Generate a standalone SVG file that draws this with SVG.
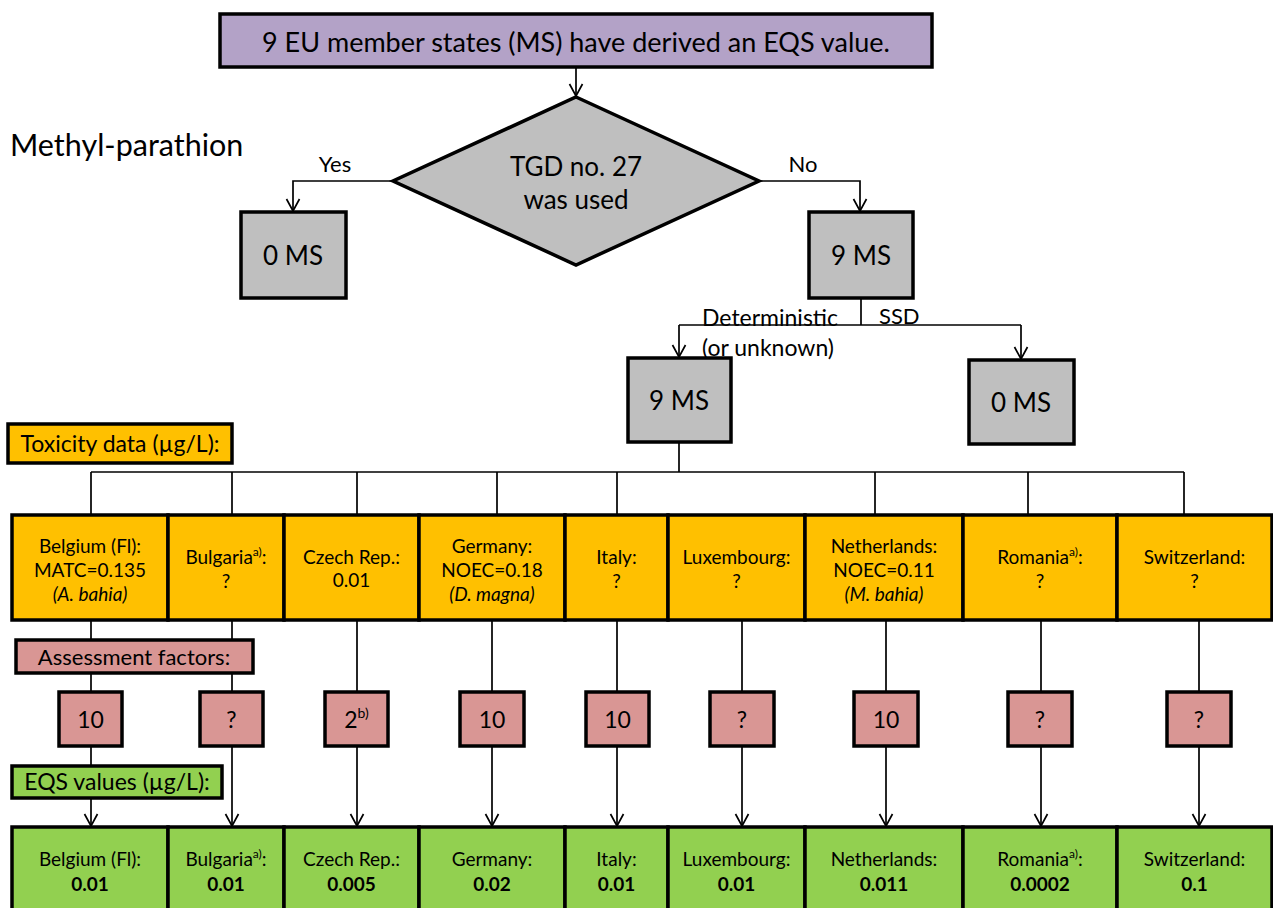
<svg xmlns="http://www.w3.org/2000/svg" width="1273" height="908" viewBox="0 0 1273 908">
  <style>
    text { font-family: Lato, "Liberation Sans", sans-serif; fill: #000; dominant-baseline: central; text-anchor: middle; }
    .box { stroke: #000; stroke-width: 3.5; }
    .purple { fill: #b3a2c7; }
    .gray { fill: #bfbfbf; }
    .orange { fill: #ffc000; }
    .pink { fill: #d99694; }
    .green { fill: #92d050; }
    .wire { fill: none; stroke: #000; stroke-width: 1.7; }
    .t26 { font-size: 26px; }
    .lbl { font-size: 22px; }
    .key { font-size: 23px; }
    .cell { font-size: 19px; }
    .af { font-size: 23px; }
    .b { font-weight: bold; }
    .i { font-style: italic; }
    .sup { font-size: 12px; }
  </style>
  <defs>
    <marker id="arr" viewBox="-14 -8 16 16" refX="0" refY="0" markerWidth="16" markerHeight="16" markerUnits="userSpaceOnUse" orient="auto">
      <path d="M-12,-6.5 L0,0 L-12,6.5" fill="none" stroke="#000" stroke-width="1.7"/>
    </marker>
  </defs>

  <rect width="1273" height="908" fill="#fff"/>

  <!-- connectors -->
  <g id="connectors" class="wire">
    <path d="M576,67 V96" marker-end="url(#arr)"/>
    <path d="M393,181 H293 V211" marker-end="url(#arr)"/>
    <path d="M759,181 H860 V211" marker-end="url(#arr)"/>
    <path d="M861,298 V325"/>
    <path d="M679,325 H1021"/>
    <path d="M679,325 V357" marker-end="url(#arr)"/>
    <path d="M1021,325 V359" marker-end="url(#arr)"/>
    <path d="M679,442 V472"/>
    <path d="M91,472 H1184"/>
    <path d="M91,472 V515 M232,472 V515 M357,472 V515 M497,472 V515 M617,472 V515 M875,472 V515 M1028,472 V515 M1184,472 V515"/>
    <path d="M91,620 V692 M232,620 V692 M357,620 V692 M492,620 V692 M617,620 V692 M742,620 V692 M886,620 V692 M1041,620 V692 M1199,620 V692"/>
    <path d="M91,746 V826" marker-end="url(#arr)"/>
    <path d="M232,746 V826" marker-end="url(#arr)"/>
    <path d="M357,746 V826" marker-end="url(#arr)"/>
    <path d="M492,746 V826" marker-end="url(#arr)"/>
    <path d="M617,746 V826" marker-end="url(#arr)"/>
    <path d="M742,746 V826" marker-end="url(#arr)"/>
    <path d="M886,746 V826" marker-end="url(#arr)"/>
    <path d="M1041,746 V826" marker-end="url(#arr)"/>
    <path d="M1199,746 V826" marker-end="url(#arr)"/>
  </g>

  <!-- branch labels -->
  <g id="edge-labels" class="lbl">
    <text x="335" y="163">Yes</text>
    <text x="803" y="163">No</text>
    <text x="702" y="317" style="text-anchor:start; font-size:23px">Deterministic</text>
    <text x="702" y="347" style="text-anchor:start; font-size:23px">(or unknown)</text>
    <text x="879" y="315" style="text-anchor:start">SSD</text>
  </g>

  <text id="title" x="10" y="144" style="text-anchor:start; font-size:30.5px">Methyl-parathion</text>

  <g id="start">
    <rect class="box purple" x="220" y="14" width="712" height="53"/>
    <text x="576" y="41" style="font-size:27px">9 EU member states (MS) have derived an EQS value.</text>
  </g>

  <g id="decision">
    <polygon class="box gray" points="576,97 759,181 576,265 393,181"/>
    <text class="t26" x="576" y="166">TGD no. 27</text>
    <text class="t26" x="576" y="199">was used</text>
  </g>

  <g id="yes-count">
    <rect class="box gray" x="241" y="212" width="105" height="86"/>
    <text class="t26" x="293" y="255">0 MS</text>
  </g>
  <g id="no-count">
    <rect class="box gray" x="809" y="212" width="104" height="86"/>
    <text class="t26" x="861" y="255">9 MS</text>
  </g>
  <g id="deterministic-count">
    <rect class="box gray" x="628" y="358" width="103" height="84"/>
    <text class="t26" x="679" y="400">9 MS</text>
  </g>
  <g id="ssd-count">
    <rect class="box gray" x="969" y="360" width="105" height="84"/>
    <text class="t26" x="1021" y="402">0 MS</text>
  </g>

  <g id="tox-label">
    <rect class="box orange" x="8" y="424" width="224" height="39"/>
    <text class="key" x="120" y="443">Toxicity data (µg/L):</text>
  </g>

  <!-- toxicity data per member state -->
  <g id="tox-belgium">
    <rect class="box orange" x="12" y="515" width="156" height="105"/>
    <text class="cell" x="90" y="545">Belgium (Fl):</text>
    <text class="cell" x="90" y="569">MATC=0.135</text>
    <text class="cell i" x="90" y="593">(A. bahia)</text>
  </g>
  <g id="tox-bulgaria">
    <rect class="box orange" x="168" y="515" width="116" height="105"/>
    <text class="cell" x="226" y="556">Bulgaria<tspan class="sup" dy="-5">a)</tspan><tspan dy="5">:</tspan></text>
    <text class="cell" x="226" y="580">?</text>
  </g>
  <g id="tox-czech">
    <rect class="box orange" x="284" y="515" width="135" height="105"/>
    <text class="cell" x="351.5" y="556">Czech Rep.:</text>
    <text class="cell" x="351.5" y="579">0.01</text>
  </g>
  <g id="tox-germany">
    <rect class="box orange" x="419" y="515" width="146" height="105"/>
    <text class="cell" x="492" y="545">Germany:</text>
    <text class="cell" x="492" y="569">NOEC=0.18</text>
    <text class="cell i" x="492" y="593">(D. magna)</text>
  </g>
  <g id="tox-italy">
    <rect class="box orange" x="565" y="515" width="103" height="105"/>
    <text class="cell" x="616.5" y="556">Italy:</text>
    <text class="cell" x="616.5" y="580">?</text>
  </g>
  <g id="tox-luxembourg">
    <rect class="box orange" x="668" y="515" width="137" height="105"/>
    <text class="cell" x="736.5" y="556">Luxembourg:</text>
    <text class="cell" x="736.5" y="580">?</text>
  </g>
  <g id="tox-netherlands">
    <rect class="box orange" x="805" y="515" width="158" height="105"/>
    <text class="cell" x="884" y="545">Netherlands:</text>
    <text class="cell" x="884" y="569">NOEC=0.11</text>
    <text class="cell i" x="884" y="593">(M. bahia)</text>
  </g>
  <g id="tox-romania">
    <rect class="box orange" x="963" y="515" width="154" height="105"/>
    <text class="cell" x="1040" y="556">Romania<tspan class="sup" dy="-5">a)</tspan><tspan dy="5">:</tspan></text>
    <text class="cell" x="1040" y="580">?</text>
  </g>
  <g id="tox-switzerland">
    <rect class="box orange" x="1117" y="515" width="155" height="105"/>
    <text class="cell" x="1194.5" y="556">Switzerland:</text>
    <text class="cell" x="1194.5" y="580">?</text>
  </g>

  <g id="af-label">
    <rect class="box pink" x="16" y="640" width="237" height="33"/>
    <text class="lbl" x="134" y="656">Assessment factors:</text>
  </g>

  <!-- assessment factors -->
  <g id="af-belgium"><rect class="box pink" x="59" y="692" width="63" height="54"/><text class="af" x="90.5" y="719">10</text></g>
  <g id="af-bulgaria"><rect class="box pink" x="200" y="692" width="63" height="54"/><text class="af" x="231.5" y="719">?</text></g>
  <g id="af-czech"><rect class="box pink" x="325" y="692" width="63" height="54"/><text class="af" x="356.5" y="719">2<tspan class="sup" style="font-size:14px" dy="-7">b)</tspan></text></g>
  <g id="af-germany"><rect class="box pink" x="460" y="692" width="64" height="54"/><text class="af" x="492" y="719">10</text></g>
  <g id="af-italy"><rect class="box pink" x="586" y="692" width="63" height="54"/><text class="af" x="617.5" y="719">10</text></g>
  <g id="af-luxembourg"><rect class="box pink" x="710" y="692" width="64" height="54"/><text class="af" x="742" y="719">?</text></g>
  <g id="af-netherlands"><rect class="box pink" x="854" y="692" width="64" height="54"/><text class="af" x="886" y="719">10</text></g>
  <g id="af-romania"><rect class="box pink" x="1008" y="692" width="64" height="54"/><text class="af" x="1040" y="719">?</text></g>
  <g id="af-switzerland"><rect class="box pink" x="1167" y="692" width="64" height="54"/><text class="af" x="1199" y="719">?</text></g>

  <g id="eqs-label">
    <rect class="box green" x="12" y="766" width="210" height="32"/>
    <text class="key" x="117" y="781">EQS values (µg/L):</text>
  </g>

  <!-- resulting EQS values -->
  <g id="eqs-belgium">
    <rect class="box green" x="12" y="827" width="156" height="100"/>
    <text class="cell" x="90" y="858">Belgium (Fl):</text>
    <text class="cell b" x="90" y="883">0.01</text>
  </g>
  <g id="eqs-bulgaria">
    <rect class="box green" x="168" y="827" width="116" height="100"/>
    <text class="cell" x="226" y="858">Bulgaria<tspan class="sup" dy="-5">a)</tspan><tspan dy="5">:</tspan></text>
    <text class="cell b" x="226" y="883">0.01</text>
  </g>
  <g id="eqs-czech">
    <rect class="box green" x="284" y="827" width="135" height="100"/>
    <text class="cell" x="351.5" y="858">Czech Rep.:</text>
    <text class="cell b" x="351.5" y="883">0.005</text>
  </g>
  <g id="eqs-germany">
    <rect class="box green" x="419" y="827" width="146" height="100"/>
    <text class="cell" x="492" y="858">Germany:</text>
    <text class="cell b" x="492" y="883">0.02</text>
  </g>
  <g id="eqs-italy">
    <rect class="box green" x="565" y="827" width="103" height="100"/>
    <text class="cell" x="616.5" y="858">Italy:</text>
    <text class="cell b" x="616.5" y="883">0.01</text>
  </g>
  <g id="eqs-luxembourg">
    <rect class="box green" x="668" y="827" width="137" height="100"/>
    <text class="cell" x="736.5" y="858">Luxembourg:</text>
    <text class="cell b" x="736.5" y="883">0.01</text>
  </g>
  <g id="eqs-netherlands">
    <rect class="box green" x="805" y="827" width="158" height="100"/>
    <text class="cell" x="884" y="858">Netherlands:</text>
    <text class="cell b" x="884" y="883">0.011</text>
  </g>
  <g id="eqs-romania">
    <rect class="box green" x="963" y="827" width="154" height="100"/>
    <text class="cell" x="1040" y="858">Romania<tspan class="sup" dy="-5">a)</tspan><tspan dy="5">:</tspan></text>
    <text class="cell b" x="1040" y="883">0.0002</text>
  </g>
  <g id="eqs-switzerland">
    <rect class="box green" x="1117" y="827" width="155" height="100"/>
    <text class="cell" x="1194.5" y="858">Switzerland:</text>
    <text class="cell b" x="1194.5" y="883">0.1</text>
  </g>
</svg>
